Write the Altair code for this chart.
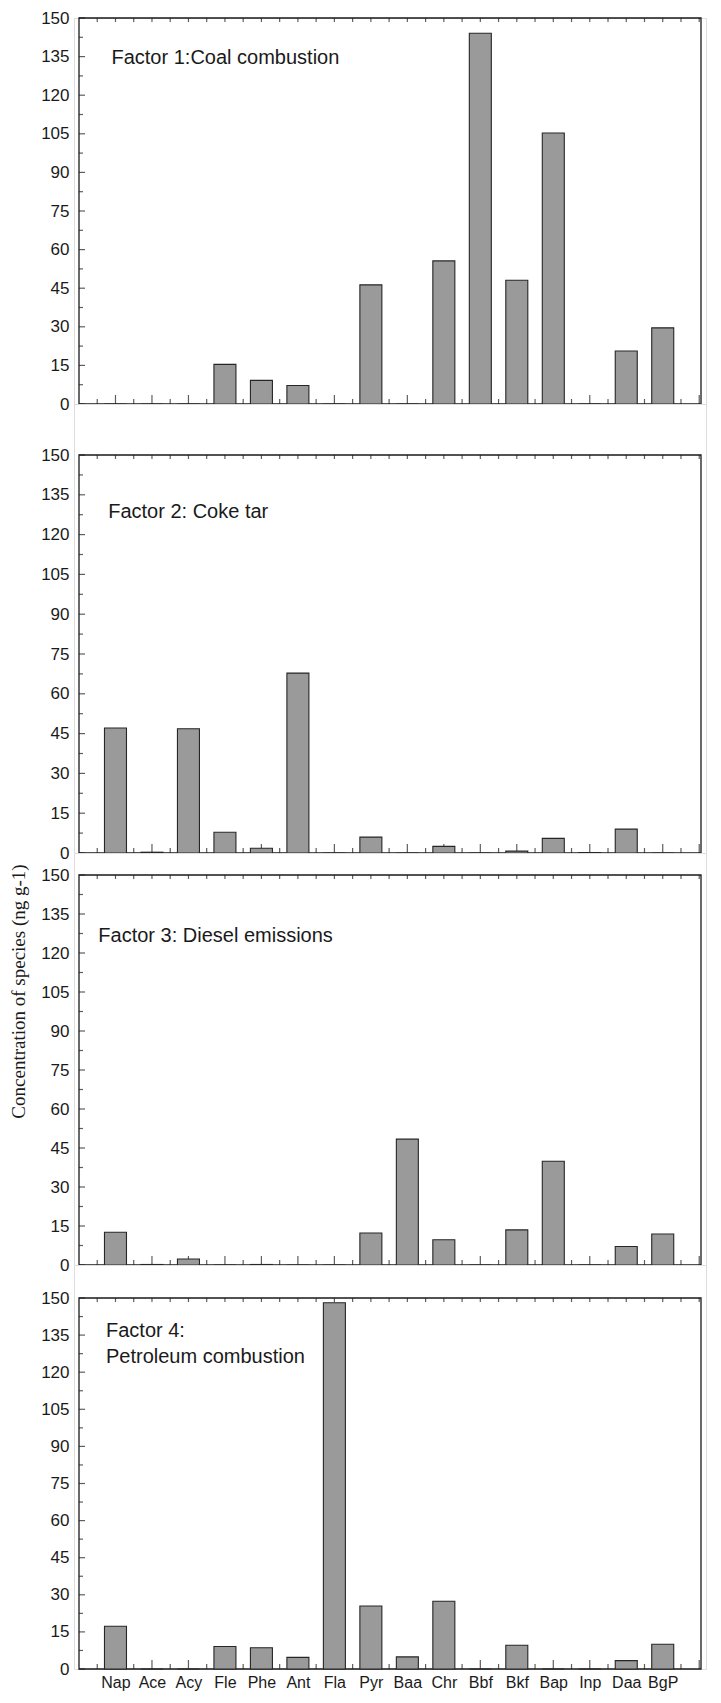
import altair as alt
import pandas as pd
import numpy as np

# ---------------- data ----------------
species = ["Nap", "Ace", "Acy", "Fle", "Phe", "Ant", "Fla", "Pyr",
           "Baa", "Chr", "Bbf", "Bkf", "Bap", "Inp", "Daa", "BgP"]
positions = list(range(1, 17))

factor1 = [0, 0, 0, 15.4, 9.2, 7.2, 0, 46.3, 0, 55.6, 144.1, 48.1, 105.3, 0, 20.6, 29.6]
factor2 = [47.1, 0.3, 46.8, 7.8, 1.8, 67.8, 0, 6.0, 0, 2.5, 0, 0.7, 5.5, 0.2, 9.0, 0]
factor3 = [12.6, 0.2, 2.3, 0, 0.2, 0, 0, 12.3, 48.4, 9.7, 0, 13.5, 39.9, 0, 7.1, 11.9]
factor4 = [17.3, 0, 0, 9.1, 8.6, 4.7, 148.1, 25.5, 4.9, 27.4, 0, 9.6, 0, 0, 3.4, 10.0]

factor_lines = [["Factor 1:Coal combustion"],
                ["Factor 2: Coke tar"],
                ["Factor 3: Diesel emissions"],
                ["Factor 4:", "Petroleum combustion"]]

y_tick_values = list(range(0, 151, 15))
y_title = "Concentration of species (ng g-1)"

# ---------------- layout / style ----------------
W = 632
UNIT = 37.07
XMAX = W / UNIT
YMAX = 150
# (plot height, gap above plot)
panel_geom = [(386, 0), (398, 51), (390, 22), (371, 33)]
# label anchor (x in data units, y of first line, line step in data units)
label_anchor = [(0.89, 134.6, 0), (0.80, 128.7, 0), (0.53, 126.5, 0), (0.74, 136.8, 10.5)]

FONT = "Liberation Sans, Arial, Helvetica, sans-serif"
SERIF = "Liberation Serif, Times New Roman, serif"
INK = "#1a1a1a"
BAR_FILL = "#9a9a9a"

label_expr = "[" + ",".join("'%s'" % s for s in species) + "][datum.value - 1]"


def make_panel(idx, values):
    H, gap = panel_geom[idx]
    total = H + gap
    xs = alt.Scale(domain=[0, XMAX], range=[0, W], nice=False, zero=False)
    ys = alt.Scale(domain=[0, YMAX], range=[total, gap], nice=False)

    last = idx == 3
    if last:
        x_axis = alt.Axis(values=positions, labelExpr=label_expr, ticks=False,
                          domain=False, grid=False, title=None, labelFont=FONT,
                          labelFontSize=16, labelColor=INK, labelPadding=5,
                          labelFlush=False, labelOverlap=False)
    else:
        x_axis = None

    y_kwargs = dict(values=y_tick_values, ticks=False, domain=False, grid=False,
                    labelFont=FONT, labelFontSize=17, labelColor=INK,
                    labelPadding=5, labelFlush=False, labelOverlap=False)
    if idx == 2:
        y_axis = alt.Axis(title=y_title, titleFont=SERIF, titleFontSize=19,
                          titleFontWeight="normal", titleColor=INK,
                          titleAngle=270, titleX=-56, titleY=138,
                          titleAlign="center", titleBaseline="middle", **y_kwargs)
    else:
        y_axis = alt.Axis(title=None, **y_kwargs)

    bars_df = pd.DataFrame({"pos": positions, "species": species, "value": values})
    frame_df = pd.DataFrame({"x0": [0], "x1": [XMAX], "y0": [0], "y1": [YMAX]})

    frame = alt.Chart(frame_df).mark_rect(
        fillOpacity=0, stroke=INK, strokeWidth=1.3
    ).encode(
        x=alt.X("x0:Q", scale=xs, axis=x_axis),
        x2="x1:Q",
        y=alt.Y("y0:Q", scale=ys, axis=y_axis),
        y2="y1:Q",
    )

    xmaj = pd.DataFrame({"t": np.arange(1, 17.01, 1.0)})
    xmin = pd.DataFrame({"t": np.arange(0.5, 16.6, 1.0)})
    xtop = pd.DataFrame({"t": np.arange(0.5, 17.01, 0.5)})
    ymaj = pd.DataFrame({"t": np.arange(0, 151, 15.0)})
    ymin = pd.DataFrame({"t": np.arange(7.5, 150, 15.0)})

    def xticks(df, size, at_top=False):
        off = size / 2.0 if at_top else -size / 2.0
        return alt.Chart(df).mark_tick(
            orient="vertical", size=size, thickness=1.2, color=INK, yOffset=off
        ).encode(
            x=alt.X("t:Q", scale=xs, axis=x_axis),
            y=alt.Y(datum=YMAX if at_top else 0, scale=ys, axis=y_axis),
        )

    def yticks(df, size):
        return alt.Chart(df).mark_tick(
            orient="horizontal", size=size, thickness=1.2, color=INK, xOffset=size / 2.0
        ).encode(
            x=alt.X(datum=0, scale=xs, axis=x_axis),
            y=alt.Y("t:Q", scale=ys, axis=y_axis),
        )

    bars = alt.Chart(bars_df).mark_bar(
        size=22, fill=BAR_FILL, stroke="#262626", strokeWidth=1.1
    ).encode(
        x=alt.X("pos:Q", scale=xs, axis=x_axis),
        y=alt.Y("value:Q", scale=ys, axis=y_axis),
        tooltip=["species:N", "value:Q"],
    )

    lx, ly, step = label_anchor[idx]
    lines = factor_lines[idx]
    text_df = pd.DataFrame({
        "x": [lx] * len(lines),
        "y": [ly - k * step for k in range(len(lines))],
        "label": lines,
    })
    text = alt.Chart(text_df).mark_text(
        align="left", baseline="middle", font=FONT, fontSize=20, color=INK
    ).encode(
        x=alt.X("x:Q", scale=xs, axis=x_axis),
        y=alt.Y("y:Q", scale=ys, axis=y_axis),
        text="label:N",
    )

    layered = alt.layer(
        frame,
        xticks(xmaj, 9), xticks(xmin, 5), xticks(xtop, 4, at_top=True),
        yticks(ymaj, 6), yticks(ymin, 4),
        bars, text,
    ).properties(width=W, height=total)
    return layered


panels = [make_panel(i, v) for i, v in enumerate([factor1, factor2, factor3, factor4])]

chart = alt.VConcatChart(
    vconcat=panels, spacing=0, bounds="flush"
).properties(
    padding=0
).configure_view(
    strokeWidth=0
).configure(
    font=FONT, background="white"
)

chart.save("out.html", embed_options={"renderer": "svg", "actions": False})
